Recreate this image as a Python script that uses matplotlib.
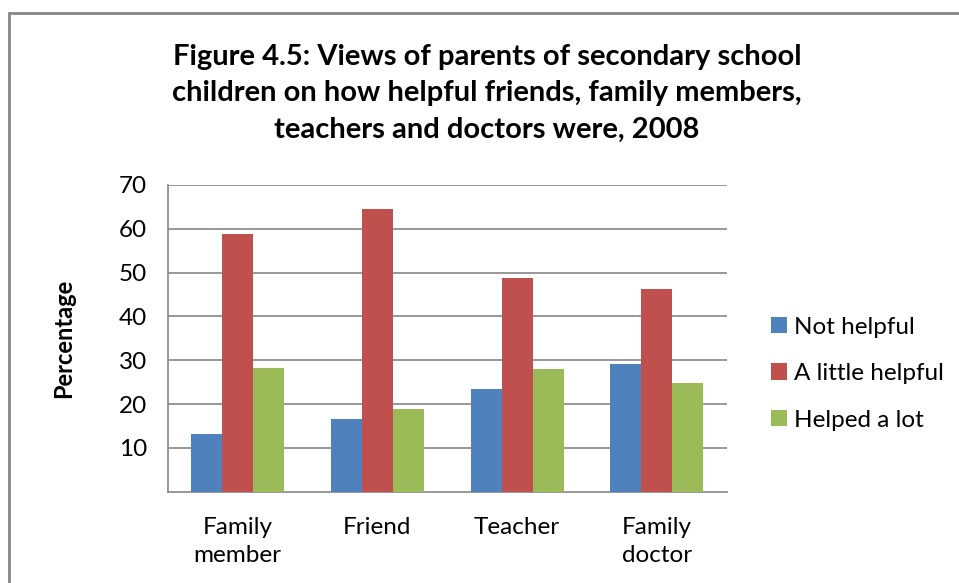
"""Grouped bar chart: views of parents on how helpful people were, 2008."""

import matplotlib

matplotlib.use("Agg")
import matplotlib.pyplot as plt
import numpy as np
from matplotlib.patches import Rectangle

plt.rcParams["font.family"] = ["Lato", "DejaVu Sans"]

CATEGORIES = ["Family\nmember", "Friend", "Teacher", "Family\ndoctor"]
SERIES_NAMES = ["Not helpful", "A little helpful", "Helped a lot"]
NOT_HELPFUL = [13.1, 16.6, 23.4, 29.1]
A_LITTLE_HELPFUL = [58.8, 64.5, 48.7, 46.2]
HELPED_A_LOT = [28.3, 18.9, 27.9, 24.7]
Y_TICKS = [10, 20, 30, 40, 50, 60, 70]

COLORS = ["#4F81BD", "#C0504D", "#9BBB59"]
TITLE = (
    "Figure 4.5: Views of parents of secondary school\n"
    "children on how helpful friends, family members,\n"
    "teachers and doctors were, 2008"
)

figure = plt.figure(figsize=(9.59, 5.83), dpi=100)
figure.patches.append(
    Rectangle(
        (0.009, -0.1),
        1.2,
        1.077,
        transform=figure.transFigure,
        fill=False,
        edgecolor="#868686",
        linewidth=2,
    )
)
axis = figure.add_axes([0.1749, 0.1566, 0.5829, 0.5261])

positions = np.arange(len(CATEGORIES))
width = 0.222
for index, (name, values) in enumerate(
    zip(SERIES_NAMES, [NOT_HELPFUL, A_LITTLE_HELPFUL, HELPED_A_LOT])
):
    axis.bar(
        positions + (index - 1) * width,
        values,
        width,
        color=COLORS[index],
        label=name,
        zorder=3,
    )

axis.set_xlim(-0.5, len(CATEGORIES) - 0.5)
axis.set_ylim(0, 70)
axis.set_yticks(Y_TICKS)
axis.set_xticks(positions)
axis.set_xticklabels(CATEGORIES, fontsize=17.5, linespacing=1.45)
axis.tick_params(axis="y", labelsize=17.5, length=0, pad=15)
axis.tick_params(axis="x", length=0, pad=18)
axis.grid(axis="y", color="#868686", linewidth=1.2, zorder=0)
for side in ("top", "right"):
    axis.spines[side].set_visible(False)
for side in ("left", "bottom"):
    axis.spines[side].set_color("#868686")
    axis.spines[side].set_linewidth(1.2)
axis.set_ylabel("Percentage", fontsize=17, fontweight="bold", labelpad=31)

figure.text(
    0.508,
    0.84,
    TITLE,
    ha="center",
    va="center",
    fontsize=21,
    fontweight="bold",
    linespacing=1.5,
)
axis.legend(
    loc="center left",
    bbox_to_anchor=(1.04, 0.385),
    frameon=False,
    fontsize=17.5,
    handlelength=0.65,
    handleheight=0.65,
    handletextpad=0.3,
    labelspacing=1.05,
)

figure.savefig("out.png", dpi=100)
